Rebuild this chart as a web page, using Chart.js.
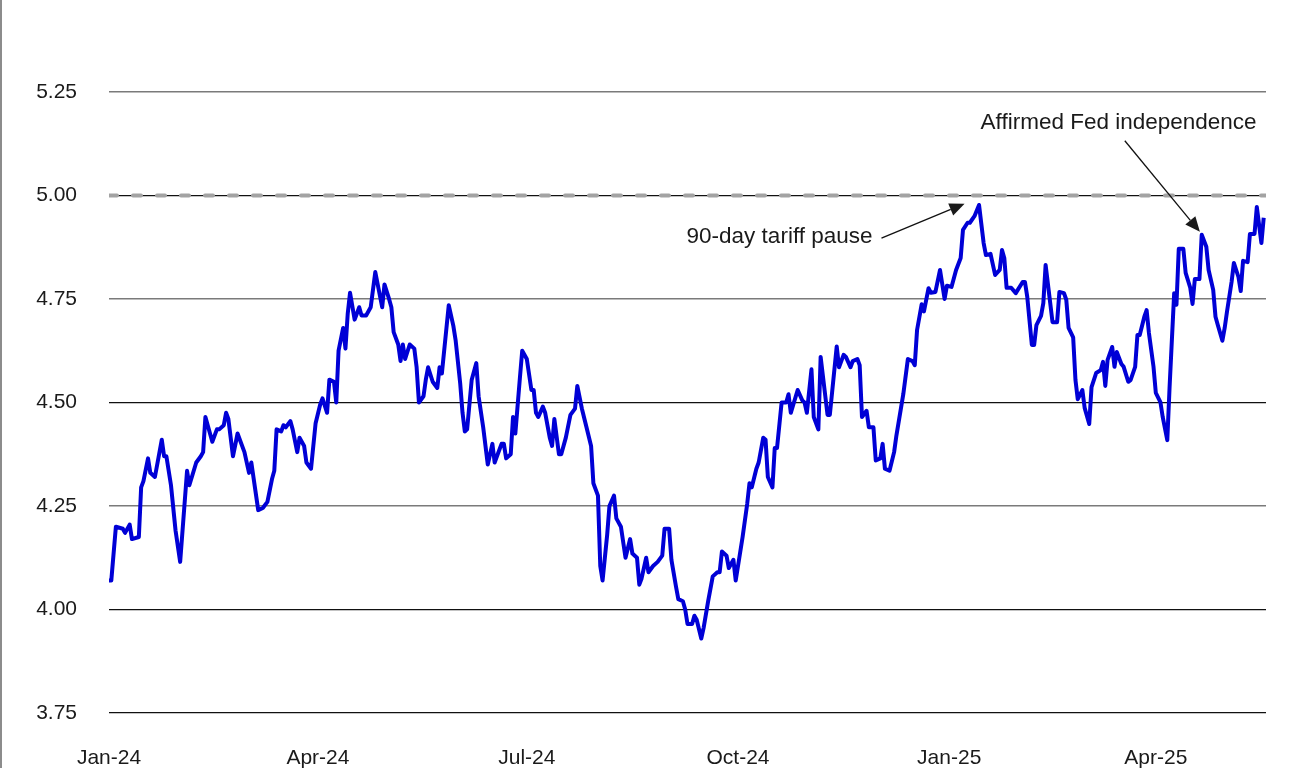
<!DOCTYPE html>
<html>
<head>
<meta charset="utf-8">
<script src="https://cdn.jsdelivr.net/npm/chart.js@4/dist/chart.umd.min.js"></script>
<style>
  html, body { margin: 0; padding: 0; background: #fff; }
  #wrap { position: relative; width: 1292px; height: 768px; overflow: hidden; }
  #edge { position: absolute; left: 0; top: 0; width: 2px; height: 768px; background: #8c8c8c; }
</style>
</head>
<body>
<div id="wrap">
  <canvas id="chart" width="1292" height="768"></canvas>
  <div id="edge"></div>
</div>
<script>
// days counted from 1 Jan 2024, values in %
const days = [
  0, 1, 3, 6, 7, 9, 10, 13, 14, 15, 17, 18, 20, 23, 24, 25, 27, 29, 31, 34,
  35, 38, 40, 41, 42, 45, 47, 48, 50, 51, 52, 54, 56, 59, 61, 62, 65, 67, 69, 71,
  72, 73, 75, 76, 77, 79, 80, 82, 83, 85, 86, 88, 90, 92, 93, 95, 96, 98, 99, 100,
  102, 103, 104, 105, 107, 109, 110, 112, 114, 116, 119, 120, 122, 123, 124, 126, 127, 128, 129, 131,
  133, 134, 135, 137, 138, 139, 141, 143, 144, 145, 148, 150, 151, 153, 154, 155, 156, 158, 160, 161,
  163, 165, 167, 168, 171, 172, 173, 175, 176, 177, 179, 180, 182, 184, 185, 186, 187, 189, 190, 192,
  193, 194, 196, 197, 199, 201, 203, 204, 206, 208, 210, 211, 213, 214, 215, 217, 218, 220, 221, 223,
  225, 227, 228, 230, 231, 232, 234, 235, 237, 239, 241, 242, 244, 245, 247, 248, 250, 251, 252, 254,
  255, 256, 258, 259, 261, 263, 265, 266, 267, 269, 270, 272, 273, 276, 278, 279, 280, 282, 283, 285,
  286, 287, 289, 290, 291, 293, 295, 296, 297, 300, 302, 303, 304, 306, 307, 309, 310, 313, 314, 317,
  318, 320, 321, 323, 324, 326, 327, 328, 330, 331, 333, 334, 336, 337, 338, 340, 342, 343, 346, 348,
  350, 351, 352, 354, 355, 357, 358, 360, 362, 364, 365, 367, 369, 371, 372, 374, 375, 377, 379, 381,
  382, 384, 386, 388, 389, 390, 391, 393, 395, 398, 399, 400, 402, 403, 404, 406, 407, 408, 410, 411,
  413, 414, 416, 417, 418, 420, 421, 422, 424, 425, 427, 428, 430, 432, 433, 434, 435, 437, 438, 439,
  441, 442, 444, 445, 447, 448, 449, 451, 452, 453, 455, 456, 458, 459, 461, 462, 463, 464, 465, 466,
  468, 469, 471, 472, 473, 475, 476, 478, 479, 481, 482, 483, 485, 486, 487, 489, 490, 492, 493, 494,
  496, 497, 499, 500, 502, 503
];
const yields = [
  4.07, 4.07, 4.20, 4.195, 4.185, 4.205, 4.17, 4.175, 4.295, 4.31, 4.365, 4.33, 4.32, 4.41, 4.37, 4.37, 4.30, 4.19, 4.115, 4.335,
  4.30, 4.355, 4.37, 4.38, 4.465, 4.405, 4.435, 4.435, 4.445, 4.475, 4.46, 4.37, 4.425, 4.38, 4.33, 4.355, 4.24, 4.245, 4.26, 4.315,
  4.335, 4.435, 4.43, 4.445, 4.44, 4.455, 4.435, 4.38, 4.415, 4.395, 4.355, 4.34, 4.45, 4.495, 4.51, 4.475, 4.555, 4.55, 4.50, 4.625,
  4.68, 4.63, 4.715, 4.765, 4.70, 4.73, 4.71, 4.71, 4.73, 4.815, 4.73, 4.785, 4.75, 4.73, 4.67, 4.64, 4.60, 4.64, 4.605, 4.64,
  4.63, 4.585, 4.50, 4.515, 4.555, 4.585, 4.55, 4.535, 4.585, 4.57, 4.735, 4.685, 4.65, 4.545, 4.475, 4.43, 4.435, 4.555, 4.595, 4.515,
  4.44, 4.35, 4.40, 4.355, 4.40, 4.40, 4.365, 4.375, 4.465, 4.425, 4.56, 4.625, 4.605, 4.53, 4.53, 4.475, 4.465, 4.49, 4.475, 4.415,
  4.395, 4.46, 4.375, 4.375, 4.415, 4.47, 4.485, 4.54, 4.485, 4.44, 4.395, 4.305, 4.275, 4.105, 4.07, 4.18, 4.25, 4.275, 4.22, 4.20,
  4.125, 4.17, 4.135, 4.125, 4.06, 4.075, 4.125, 4.09, 4.105, 4.115, 4.13, 4.195, 4.195, 4.12, 4.055, 4.025, 4.02, 4.00, 3.965, 3.965,
  3.985, 3.975, 3.93, 3.955, 4.02, 4.08, 4.09, 4.09, 4.14, 4.13, 4.10, 4.12, 4.07, 4.175, 4.255, 4.305, 4.295, 4.34, 4.355, 4.415,
  4.41, 4.32, 4.295, 4.39, 4.39, 4.50, 4.50, 4.52, 4.475, 4.53, 4.505, 4.50, 4.475, 4.58, 4.465, 4.435, 4.61, 4.47, 4.47, 4.635,
  4.585, 4.615, 4.61, 4.585, 4.60, 4.605, 4.59, 4.465, 4.48, 4.44, 4.44, 4.36, 4.365, 4.40, 4.34, 4.335, 4.38, 4.42, 4.52, 4.605,
  4.60, 4.59, 4.675, 4.737, 4.72, 4.776, 4.765, 4.767, 4.82, 4.75, 4.782, 4.779, 4.82, 4.849, 4.917, 4.934, 4.934, 4.95, 4.977, 4.885,
  4.856, 4.859, 4.808, 4.82, 4.868, 4.849, 4.777, 4.777, 4.764, 4.791, 4.791, 4.755, 4.639, 4.639, 4.687, 4.709, 4.74, 4.832, 4.74, 4.694,
  4.694, 4.767, 4.764, 4.748, 4.68, 4.657, 4.554, 4.508, 4.53, 4.487, 4.448, 4.537, 4.571, 4.578, 4.598, 4.54, 4.603, 4.634, 4.586, 4.622,
  4.593, 4.586, 4.55, 4.554, 4.586, 4.663, 4.663, 4.707, 4.723, 4.668, 4.586, 4.523, 4.501, 4.465, 4.409, 4.537, 4.651, 4.764, 4.736, 4.871,
  4.871, 4.813, 4.777, 4.738, 4.798, 4.798, 4.905, 4.876, 4.82, 4.772, 4.707, 4.687, 4.649, 4.68, 4.719, 4.791, 4.837, 4.803, 4.769, 4.842,
  4.839, 4.907, 4.907, 4.972, 4.885, 4.946
];

const refLevel = 5.00;
const tickDays = [0, 91, 182, 274, 366, 456];
const tickLabels = ['Jan-24', 'Apr-24', 'Jul-24', 'Oct-24', 'Jan-25', 'Apr-25'];
const yTicks = [3.75, 4.00, 4.25, 4.50, 4.75, 5.00, 5.25];
const softGrid = [4.25, 4.75, 5.25]; // these lines look lighter in the original

// text + arrow notes, in data units
const notes = [
  { text: '90-day tariff pause', align: 'right', at: [332.6, 4.900], from: [336.5, 4.897], to: [372.7, 4.980] },
  { text: 'Affirmed Fed independence', align: 'center', at: [439.8, 5.175], from: [442.5, 5.132], to: [475.2, 4.912] }
];

const FONT = '"Liberation Sans", Arial, sans-serif';

const notesPlugin = {
    id: 'notes',
    afterDatasetsDraw(chart) {
        const ctx = chart.ctx;
        const xs = chart.scales.x, ys = chart.scales.y;
        ctx.save();
        ctx.fillStyle = '#1a1a1a';
        ctx.strokeStyle = '#111';
        ctx.font = '22.5px ' + FONT;
        ctx.textBaseline = 'middle';
        notes.forEach(n => {
            ctx.textAlign = n.align;
            ctx.fillText(n.text, xs.getPixelForValue(n.at[0]), ys.getPixelForValue(n.at[1]));
            const x0 = xs.getPixelForValue(n.from[0]), y0 = ys.getPixelForValue(n.from[1]);
            const x1 = xs.getPixelForValue(n.to[0]), y1 = ys.getPixelForValue(n.to[1]);
            const ang = Math.atan2(y1 - y0, x1 - x0);
            const len = 15, half = 6.5;
            const bx = x1 - len * Math.cos(ang), by = y1 - len * Math.sin(ang);
            ctx.lineWidth = 1.3;
            ctx.beginPath();
            ctx.moveTo(x0, y0);
            ctx.lineTo(bx, by);
            ctx.stroke();
            ctx.beginPath();
            ctx.moveTo(x1, y1);
            ctx.lineTo(bx + half * Math.sin(ang), by - half * Math.cos(ang));
            ctx.lineTo(bx - half * Math.sin(ang), by + half * Math.cos(ang));
            ctx.closePath();
            ctx.fill();
        });
        ctx.restore();
    }
};

const points = days.map((d, i) => ({ x: d, y: yields[i] }));
const refLine = [{ x: 0, y: refLevel }, { x: 504, y: refLevel }];
const isSoft = v => softGrid.some(s => Math.abs(s - v) < 1e-6);

new Chart(document.getElementById('chart'), {
    type: 'line',
    data: {
        datasets: [
            {
                data: refLine,
                borderColor: '#a3a3a3',
                borderWidth: 4,
                borderDash: [8, 16],
                borderCapStyle: 'round',
                pointRadius: 0
            },
            {
                data: points,
                borderColor: '#0000d6',
                borderWidth: 4,
                borderJoinStyle: 'round',
                pointRadius: 0,
                tension: 0
            }
        ]
    },
    options: {
        responsive: false,
        animation: false,
        devicePixelRatio: 1,
        layout: { padding: { left: 0, right: 26, top: 0, bottom: 0 } },
        plugins: {
            legend: { display: false },
            tooltip: { enabled: false }
        },
        scales: {
            x: {
                type: 'linear',
                min: 0,
                max: 504,
                grid: { display: false },
                border: { display: false },
                afterBuildTicks: s => { s.ticks = tickDays.map(v => ({ value: v })); },
                afterFit: s => { s.height = 55; },
                ticks: {
                    padding: 25,
                    maxRotation: 0,
                    autoSkip: false,
                    color: '#1a1a1a',
                    font: { family: FONT, size: 21 },
                    callback: v => tickLabels[tickDays.indexOf(v)]
                }
            },
            y: {
                min: 3.75,
                max: 5.472,
                border: { display: false },
                grid: {
                    drawTicks: false,
                    color: c => (isSoft(c.tick.value) ? '#7a7a7a' : '#111'),
                    lineWidth: c => (isSoft(c.tick.value) ? 1.6 : 1.3)
                },
                afterBuildTicks: s => { s.ticks = yTicks.map(v => ({ value: v })); },
                afterFit: s => { s.width = 109; s.paddingTop = 0; s.paddingBottom = 0; },
                ticks: {
                    padding: 32,
                    color: '#1a1a1a',
                    font: { family: FONT, size: 21 },
                    callback: v => v.toFixed(2)
                }
            }
        }
    },
    plugins: [notesPlugin]
});
</script>
</body>
</html>
